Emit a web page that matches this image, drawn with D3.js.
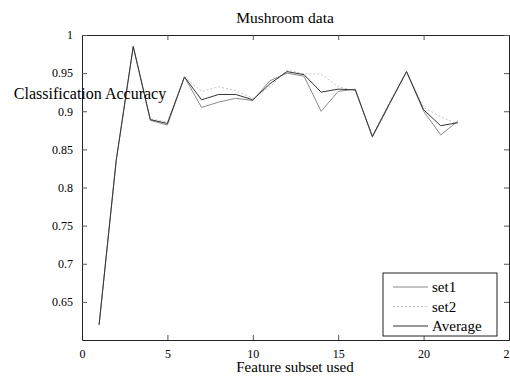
<!DOCTYPE html>
<html lang="en">
<head>
<meta charset="UTF-8">
<title>Mushroom data</title>
<style>
    body { margin: 0; background: #fff; }
    svg text { font-family: "Liberation Serif", "DejaVu Serif", serif; fill: #000; }
</style>
</head>
<body>
<svg id="SVG"></svg>
<script src="https://d3js.org/d3.v7.min.js"></script>
<script>
    // values
    var features = [1, 2, 3, 4, 5, 6, 7, 8, 9, 10, 11, 12, 13, 14, 15, 16, 17, 18, 19, 20, 21, 22];
    var set1 = [0.62, 0.835, 0.985, 0.888, 0.882, 0.945, 0.905, 0.912, 0.917, 0.914, 0.94, 0.95, 0.946, 0.90, 0.926, 0.929, 0.866, 0.909, 0.952, 0.900, 0.869, 0.887];
    var set2 = [0.62, 0.835, 0.985, 0.890, 0.886, 0.945, 0.926, 0.932, 0.927, 0.917, 0.932, 0.954, 0.949, 0.949, 0.932, 0.927, 0.868, 0.912, 0.952, 0.905, 0.893, 0.883];
    var average = [0.62, 0.835, 0.985, 0.889, 0.884, 0.945, 0.915, 0.922, 0.922, 0.915, 0.936, 0.952, 0.948, 0.925, 0.929, 0.928, 0.867, 0.910, 0.952, 0.902, 0.881, 0.885];
    var xTicks = [0, 5, 10, 15, 20, 25];
    var yTicks = [0.65, 0.7, 0.75, 0.8, 0.85, 0.9, 0.95, 1];

    var width = 510, height = 378;
    // plot box (don't call these top/left, they clash with window globals)
    var boxL = 82, boxR = 509, boxT = 35, boxB = 340;

    var svg = d3.select("#SVG").attr("width", width).attr("height", height);

    var x = d3.scaleLinear().domain([0, 25]).range([boxL, boxR]);
    var y = d3.scaleLinear().domain([0.6, 1]).range([boxB, boxT]);

    // axes, ticks pointing inward like matlab
    var axB = svg.append("g").attr("transform", `translate(0,${boxB})`)
        .call(d3.axisBottom(x).tickValues(xTicks).tickSizeInner(-5).tickSizeOuter(0).tickPadding(9));
    var axT = svg.append("g").attr("transform", `translate(0,${boxT})`)
        .call(d3.axisTop(x).tickValues(xTicks).tickSizeInner(-5).tickSizeOuter(0).tickFormat(""));
    var axL = svg.append("g").attr("transform", `translate(${boxL},0)`)
        .call(d3.axisLeft(y).tickValues(yTicks).tickSizeInner(-5).tickSizeOuter(0).tickPadding(9).tickFormat(d3.format("")));
    var axR = svg.append("g").attr("transform", `translate(${boxR},0)`)
        .call(d3.axisRight(y).tickValues(yTicks).tickSizeInner(-5).tickSizeOuter(0).tickFormat(""));

    [axB, axT, axL, axR].forEach(function (a) {
        a.selectAll("path").attr("stroke", "#222");
        a.selectAll("line").attr("stroke", "#555");
        a.selectAll("text").style("font-family", "Liberation Serif").style("font-size", "12px").attr("fill", "#111");
    });

    var series = [
        { name: "set1", values: set1, color: "#8a8a8a", dash: null },
        { name: "set2", values: set2, color: "#c4c4c4", dash: "2,2" },
        { name: "Average", values: average, color: "#333", dash: null }
    ];

    var line = d3.line()
        .x((d, i) => x(features[i]))
        .y(d => y(d));

    svg.append("g").selectAll("path")
        .data(series)
        .enter()
        .append("path")
        .attr("d", d => line(d.values))
        .attr("fill", "none")
        .attr("stroke", d => d.color)
        .attr("stroke-width", 1)
        .attr("stroke-dasharray", d => d.dash);

    // titles
    svg.append("text").attr("x", 285).attr("y", 23).attr("text-anchor", "middle")
        .style("font-size", "15.5px").text("Mushroom data");
    svg.append("text").attr("x", 295).attr("y", 372).attr("text-anchor", "middle")
        .style("font-size", "15px").text("Feature subset used");
    svg.append("text").attr("x", 90).attr("y", 99).attr("text-anchor", "middle")
        .style("font-size", "16px").text("Classification Accuracy");

    // legend
    var lg = svg.append("g");
    lg.append("rect").attr("x", 383).attr("y", 273).attr("width", 114).attr("height", 63)
        .attr("fill", "#fff").attr("stroke", "#222");
    var items = lg.selectAll("g.item").data(series).enter().append("g")
        .attr("transform", (d, i) => `translate(0,${287 + i * 19.5})`);
    items.append("line").attr("x1", 393).attr("x2", 428).attr("y1", 0).attr("y2", 0)
        .attr("stroke", d => d.color).attr("stroke-dasharray", d => d.dash);
    items.append("text").attr("x", 432).attr("y", 5).style("font-size", "15px").text(d => d.name);
</script>
</body>
</html>
